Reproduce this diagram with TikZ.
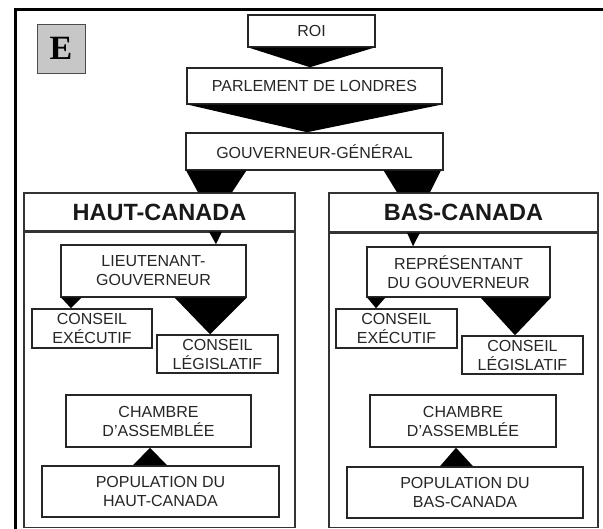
\documentclass[tikz,border=0pt]{standalone}
\usepackage{fontspec}
\setmainfont{Liberation Sans}
\newfontfamily\serifE{Liberation Serif}
\usetikzlibrary{positioning}

\tikzset{
  orgbox/.style={draw=black!85, line width=1.5pt, fill=white, inner sep=0pt,
    align=center, text=black!85, font=\fontsize{16}{19}\selectfont},
  panelhead/.style={draw=black!80, line width=1.3pt, inner sep=0pt,
    text=black!90, font=\bfseries\fontsize{23.5}{26}\selectfont},
  panelbody/.style={draw=black!80, line width=1.3pt, inner sep=0pt},
  wedge/.style={fill=black},
}

\begin{document}
\begin{tikzpicture}[x=1pt, y=-1pt]
  \useasboundingbox (0,0) rectangle (603,529);
  % outer frame, cut by the page on the right and below
  \draw[line width=3.5pt] (15.5,9.5) rectangle (612,540);
  \node[draw=black!70, line width=0.8pt, fill=black!22, minimum width=48, minimum height=49,
    font=\serifE\bfseries\fontsize{34}{34}\selectfont] (ebox) at (61,48.5) {E};

  % top of the chain
  \node[orgbox, minimum width=127, minimum height=32] (roi) at (311.5,31) {ROI};
  \node[orgbox, minimum width=255, minimum height=36] (parl) at (314.5,86) {PARLEMENT DE LONDRES};
  \node[orgbox, minimum width=257, minimum height=37] (gg) at (314.5,151.5) {GOUVERNEUR-GÉNÉRAL};

  % the two provinces
  \node[panelhead, minimum width=271, minimum height=38] (hc) at (159.5,212) {HAUT-CANADA};
  \node[panelbody, minimum width=271, minimum height=295, below=0pt of hc] (hcbody) {};
  \node[panelhead, minimum width=269, minimum height=39] (bc) at (463.5,212.5) {BAS-CANADA};
  \node[panelbody, minimum width=269, minimum height=294, below=0pt of bc] (bcbody) {};

  % Haut-Canada
  \node[orgbox, minimum width=185, minimum height=52] (lg) at (153.5,271) {LIEUTENANT-\\GOUVERNEUR};
  \node[orgbox, minimum width=120, minimum height=39] (ceL) at (92,328.5) {CONSEIL\\EXÉCUTIF};
  \node[orgbox, minimum width=121, minimum height=38] (clL) at (217.5,354) {CONSEIL\\LÉGISLATIF};
  \node[orgbox, minimum width=185, minimum height=52] (chL) at (158.5,421) {CHAMBRE\\D'ASSEMBLÉE};
  \node[orgbox, minimum width=237, minimum height=51] (popL) at (160.5,491.5) {POPULATION DU\\HAUT-CANADA};

  % Bas-Canada
  \node[orgbox, minimum width=183, minimum height=50] (rg) at (458.5,272) {REPRÉSENTANT\\DU GOUVERNEUR};
  \node[orgbox, minimum width=121, minimum height=39] (ceR) at (396.5,328.5) {CONSEIL\\EXÉCUTIF};
  \node[orgbox, minimum width=121, minimum height=38] (clR) at (522.5,355) {CONSEIL\\LÉGISLATIF};
  \node[orgbox, minimum width=186, minimum height=52] (chR) at (463,421) {CHAMBRE\\D'ASSEMBLÉE};
  \node[orgbox, minimum width=236, minimum height=51] (popR) at (465,492.5) {POPULATION DU\\BAS-CANADA};

  % black wedges
  \fill[wedge] ([xshift=2]roi.south west) -- ([xshift=-2]roi.south east) -- ([xshift=-4.5]parl.north) -- cycle;
  \fill[wedge] ([xshift=2]parl.south west) -- ([xshift=-2]parl.south east) -- ([xshift=-7.5]gg.north) -- cycle;
  \fill[wedge] ([xshift=1]gg.south west) -- ([xshift=61]gg.south west) -- ([xshift=72.5]hc.north) -- ([xshift=38.5]hc.north) -- cycle;
  \fill[wedge] ([xshift=-60]gg.south east) -- ([xshift=-3]gg.south east) -- ([xshift=-33.5]bc.north) -- ([xshift=-66.5]bc.north) -- cycle;

  \fill[wedge] ([xshift=49.5]hc.south) -- ([xshift=62.5]hc.south) -- ([xshift=62.5]lg.north) -- cycle;
  \fill[wedge] ([xshift=1]lg.south west) -- ([xshift=21]lg.south west) -- ([xshift=-21]ceL.north) -- cycle;
  \fill[wedge] ([xshift=-72]lg.south east) -- (lg.south east) -- ([xshift=-7.5]clL.north) -- cycle;
  \fill[wedge] ([xshift=-27.5]popL.north) -- ([xshift=6.5]popL.north) -- ([xshift=-8.5]chL.south) -- cycle;

  \fill[wedge] ([xshift=-56.5]bc.south) -- ([xshift=-43.5]bc.south) -- ([xshift=-45.5]rg.north) -- cycle;
  \fill[wedge] ([xshift=1]rg.south west) -- ([xshift=19]rg.south west) -- ([xshift=-20.5]ceR.north) -- cycle;
  \fill[wedge] ([xshift=-70]rg.south east) -- (rg.south east) -- ([xshift=-7.5]clR.north) -- cycle;
  \fill[wedge] ([xshift=-25]popR.north) -- ([xshift=8]popR.north) -- ([xshift=-7]chR.south) -- cycle;
\end{tikzpicture}
\end{document}
